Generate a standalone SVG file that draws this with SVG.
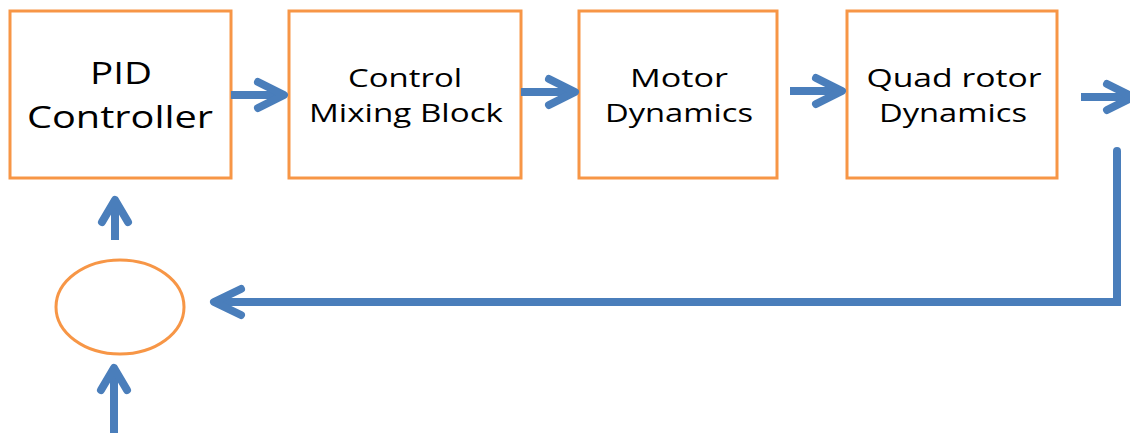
<svg xmlns="http://www.w3.org/2000/svg" width="1130" height="433" viewBox="0 0 1130 433">
  <style>
    .box { fill: #ffffff; stroke: #F79646; stroke-width: 3; }
    .sum { fill: #ffffff; stroke: #F79646; stroke-width: 3; }
    .lbl { font-family: "Open Sans", "Liberation Sans", sans-serif; fill: #000000; text-anchor: middle; }
    .big { font-size: 31px; }
    .med { font-size: 26px; }
    .wire { fill: none; stroke: #4A7EBB; stroke-width: 8; stroke-linecap: round; stroke-linejoin: round; }
    .shaft { fill: none; stroke: #4A7EBB; stroke-width: 8; stroke-linecap: butt; stroke-linejoin: miter; }
    .loop { fill: none; stroke: #4A7EBB; stroke-width: 8; stroke-linecap: round; stroke-linejoin: miter; }
  </style>
  <rect width="1130" height="433" fill="#ffffff"/>

  <g id="pid">
    <rect class="box" x="10" y="11" width="221" height="167"/>
    <text class="lbl big" x="121" y="84" textLength="62" lengthAdjust="spacingAndGlyphs">PID</text>
    <text class="lbl big" x="120" y="128" textLength="186" lengthAdjust="spacingAndGlyphs">Controller</text>
  </g>
  <g id="mixing">
    <rect class="box" x="289" y="11" width="232" height="167"/>
    <text class="lbl med" x="405" y="87" textLength="114" lengthAdjust="spacingAndGlyphs">Control</text>
    <text class="lbl med" x="406" y="122" textLength="194" lengthAdjust="spacingAndGlyphs">Mixing Block</text>
  </g>
  <g id="motor">
    <rect class="box" x="579" y="11" width="198" height="167"/>
    <text class="lbl med" x="679" y="87" textLength="98" lengthAdjust="spacingAndGlyphs">Motor</text>
    <text class="lbl med" x="679" y="122" textLength="148" lengthAdjust="spacingAndGlyphs">Dynamics</text>
  </g>
  <g id="quad">
    <rect class="box" x="847" y="11" width="210" height="167"/>
    <text class="lbl med" x="954" y="87" textLength="175" lengthAdjust="spacingAndGlyphs">Quad rotor</text>
    <text class="lbl med" x="953" y="122" textLength="148" lengthAdjust="spacingAndGlyphs">Dynamics</text>
  </g>
  <g id="sum">
    <ellipse class="sum" cx="120" cy="307" rx="64" ry="47"/>
  </g>

  <g id="connectors">
    <!-- PID -> mixing -->
    <path class="shaft" d="M231 95 H283"/>
    <path class="wire" d="M258 82 L284 95 L258 108"/>
    <!-- mixing -> motor -->
    <path class="shaft" d="M521 92 H573"/>
    <path class="wire" d="M549 79 L575 92 L549 105"/>
    <!-- motor -> quad -->
    <path class="shaft" d="M790 91 H840"/>
    <path class="wire" d="M816 78 L842 91 L816 104"/>
    <!-- quad output -->
    <path class="shaft" d="M1081 97 H1130"/>
    <path class="wire" d="M1107 84 L1133 97 L1107 110"/>
    <!-- feedback loop -->
    <path class="loop" d="M1117 151 V302 H216"/>
    <path class="wire" d="M241 289 L214 302 L241 315"/>
    <!-- sum -> PID -->
    <path class="shaft" d="M115 240 V205"/>
    <path class="wire" d="M102 222 L115 200 L128 222"/>
    <!-- reference input -> sum -->
    <path class="shaft" d="M114 433 V372"/>
    <path class="wire" d="M101 390 L114 368 L127 390"/>
  </g>
</svg>
